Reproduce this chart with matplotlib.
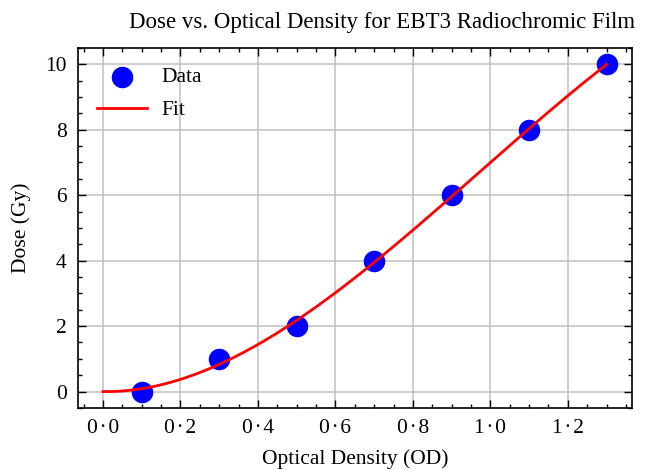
import numpy as np
import matplotlib
matplotlib.use("Agg")
import matplotlib.pyplot as plt
from matplotlib.ticker import FuncFormatter, AutoMinorLocator

# measured points
optical_density = [0.1, 0.3, 0.5, 0.7, 0.9, 1.1, 1.3]
dose = [0, 1, 2, 4, 6, 8, 10]

plt.rcParams['font.family'] = ['Liberation Serif', 'DejaVu Serif']

# cubic fit through the origin (D = a*OD + b*OD^2 + c*OD^3)
od = np.array(optical_density)
A = np.column_stack([od, od**2, od**3])
coeffs, *_ = np.linalg.lstsq(A, np.array(dose, dtype=float), rcond=None)
od_fit = np.linspace(0, od.max(), 200)
dose_fit = coeffs[0]*od_fit + coeffs[1]*od_fit**2 + coeffs[2]*od_fit**3

fig = plt.figure(figsize=(6.65, 4.70), dpi=100)
ax = fig.add_axes([0.117, 0.132, 0.833, 0.766])

ax.scatter(optical_density, dose, s=210, color='blue', label='Data', zorder=3)
ax.plot(od_fit, dose_fit, color='red', lw=2, label='Fit', zorder=4)

ax.set_title('Dose vs. Optical Density for EBT3 Radiochromic Film', fontsize=16.5, pad=14, x=0.549)
ax.set_xlabel('Optical Density (OD)', fontsize=15.5, labelpad=8)
ax.set_ylabel('Dose (Gy)', fontsize=15.5, labelpad=10)

ax.grid(True, color='#c0c0c0', lw=1.1)
ax.set_axisbelow(True)
ax.xaxis.set_minor_locator(AutoMinorLocator())
ax.yaxis.set_minor_locator(AutoMinorLocator())
ax.tick_params(which='both', direction='in', top=True, right=True, labelsize=15.5, pad=8)
ax.tick_params(which='major', length=6, width=1)
ax.tick_params(which='minor', length=3, width=1)
for s in ax.spines.values():
    s.set_linewidth(1.2)

ax.xaxis.set_major_formatter(FuncFormatter(lambda v, p: f'{v:.1f}'.replace('.', '\u200a\u00b7\u200a')))
ax.yaxis.set_major_formatter(FuncFormatter(lambda v, p: f'{v:.0f}'))

ax.legend(loc='upper left', frameon=False, fontsize=15.5, handlelength=2.3,
          borderaxespad=0.5, labelspacing=0.6, handletextpad=0.7)

fig.savefig('out.png', dpi=100)
